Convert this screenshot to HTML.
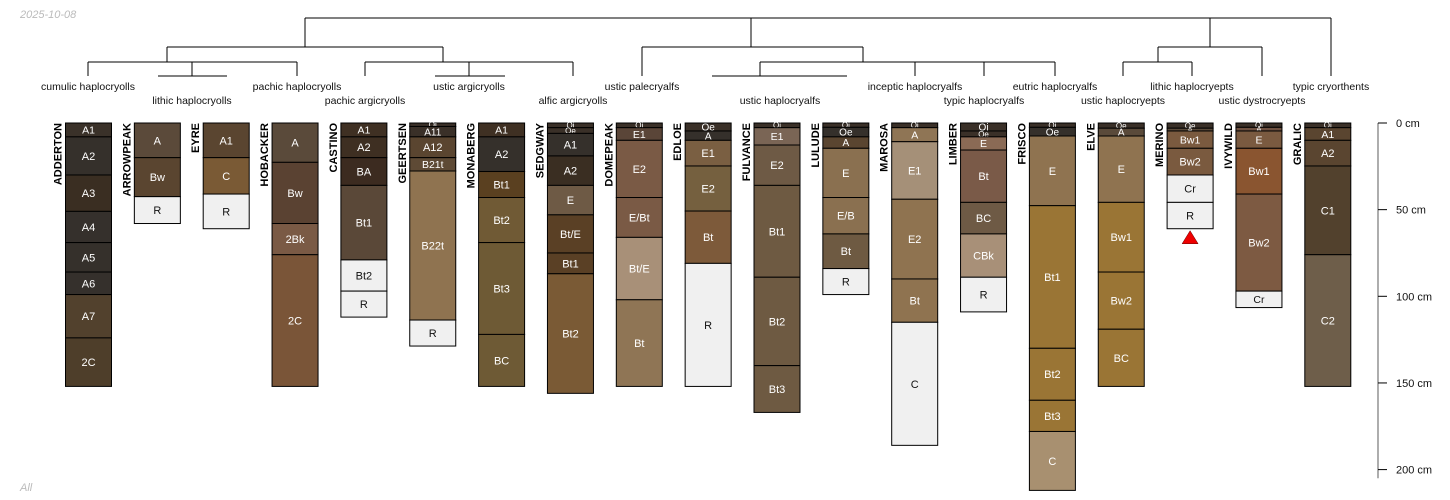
<!DOCTYPE html>
<html><head><meta charset="utf-8">
<style>
html,body{margin:0;padding:0;background:#fff;}
svg{display:block;font-family:"Liberation Sans",sans-serif;}
</style></head>
<body>
<svg id="chart" width="1450" height="500" viewBox="0 0 1450 500" xmlns="http://www.w3.org/2000/svg">
<text x="20" y="18" font-size="11" font-style="italic" fill="#bbb">2025-10-08</text>
<text x="20" y="491" font-size="11" font-style="italic" fill="#bbb">All</text>
<g id="dendro" stroke="#000" stroke-width="1" fill="none"></g>
<g id="dlabels" font-size="10.5" fill="#111" text-anchor="middle"></g>
<g id="profiles"></g>
<g id="axis"></g>
</svg>
<script>
// ---- data ----
const profileNames = ["ADDERTON","ARROWPEAK","EYRE","HOBACKER","CASTINO","GEERTSEN","MONABERG","SEDGWAY","DOMEPEAK","EDLOE","FULVANCE","LULUDE","MAROSA","LIMBER","FRISCO","ELVE","MERINO","IVYWILD","GRALIC"];
const horizonNames = [
 ["A1","A2","A3","A4","A5","A6","A7","2C"],
 ["A","Bw","R"],
 ["A1","C","R"],
 ["A","Bw","2Bk","2C"],
 ["A1","A2","BA","Bt1","Bt2","R"],
 ["Oi","A11","A12","B21t","B22t","R"],
 ["A1","A2","Bt1","Bt2","Bt3","BC"],
 ["Oi","Oe","A1","A2","E","Bt/E","Bt1","Bt2"],
 ["Oi","E1","E2","E/Bt","Bt/E","Bt"],
 ["Oe","A","E1","E2","Bt","R"],
 ["Oi","E1","E2","Bt1","Bt2","Bt3"],
 ["Oi","Oe","A","E","E/B","Bt","R"],
 ["Oi","A","E1","E2","Bt","C"],
 ["Oi","Oe","E","Bt","BC","CBk","R"],
 ["Oi","Oe","E","Bt1","Bt2","Bt3","C"],
 ["Oe","A","E","Bw1","Bw2","BC"],
 ["Oe","A","Bw1","Bw2","Cr","R"],
 ["Oi","A","E","Bw1","Bw2","Cr"],
 ["Oi","A1","A2","C1","C2"]
];
const horizonDepths = [
 [0,8,30,51,69,86,99,124,152],
 [0,20,42.5,58],
 [0,20,41,61],
 [0,22.7,58,76,152],
 [0,8,20,36,79,97,112],
 [0,2,8,20,27.7,113.7,128.7],
 [0,8,28,43,69,122,152],
 [0,2.7,6,19,36,53,75,87,156],
 [0,2.7,10,43,66,102,152],
 [0,4.6,10,24.8,50.8,81,152],
 [0,2.7,12.7,36,89,140,167],
 [0,2.5,8,14.6,43,64,84,99],
 [0,2.7,10.8,44,90,115,186],
 [0,4.6,8,15.6,45.8,64,89,109],
 [0,2.5,7.5,47.7,130,160,178,212],
 [0,3,7.5,45.8,86,119,152],
 [0,3,4.6,14.6,30,45.8,61],
 [0,2.5,4.6,14.6,41,97,106.5],
 [0,2.7,10,24.8,76,152]
];
const horizonColors = [
 ["#3a3129","#35302b","#3a2e22","#35302c","#35302b","#35302c","#52412d","#4e3e2a"],
 ["#5b4a3a","#5a4530","#f0f0f0"],
 ["#5a4530","#7a5a35","#f0f0f0"],
 ["#5a4a3a","#5a4232","#7a5a45","#7a5538"],
 ["#3f3023","#3e2f22","#3c2b20","#5a4838","#f0f0f0","#f0f0f0"],
 ["#3a3028","#3a3028","#5a4530","#5e4a35","#8f7350","#f0f0f0"],
 ["#3f3023","#35302b","#5a4020","#705a35","#6e5a35","#6e5a35"],
 ["#3a3028","#3a3028","#35302b","#3a2e22","#6e5a45","#5a4025","#5a4025","#7a5a35"],
 ["#3a3028","#5a4538","#7a5a45","#7a5a45","#a89078","#8f7555"],
 ["#3a3028","#35302b","#7a5f42","#75603f","#7d5a3a","#f0f0f0"],
 ["#3a3028","#7a6555","#6e5a45","#6e5a42","#6e5a42","#6e5a42"],
 ["#3a3028","#35302b","#5a4530","#8a7050","#8a7050","#6e5a42","#f0f0f0"],
 ["#3a3028","#8f7555","#a59078","#8f7350","#8f7350","#f0f0f0"],
 ["#3a3028","#3a3028","#8a6a55","#7a5a48","#6e5a45","#a89078","#f0f0f0"],
 ["#3a3028","#35302b","#8f7350","#9a7535","#9a7535","#9a7535","#a89070"],
 ["#3a3028","#5a4a3a","#8f7350","#9a7535","#9a7535","#9a7535"],
 ["#3a3028","#5a4a3a","#7a5a3f","#7a5a3f","#f0f0f0","#f0f0f0"],
 ["#3a3028","#6e5040","#7a5a40","#8a5530","#7d5a42","#f0f0f0"],
 ["#3a3028","#5a4530","#5a4530","#52412d","#6e5e4a"]
];
const depthTicks = [0,50,100,150,200];
const taxaNames = ["cumulic haplocryolls","lithic haplocryolls","pachic haplocryolls","pachic argicryolls","ustic argicryolls","alfic argicryolls","ustic palecryalfs","ustic haplocryalfs","inceptic haplocryalfs","typic haplocryalfs","eutric haplocryalfs","ustic haplocryepts","lithic haplocryepts","ustic dystrocryepts","typic cryorthents"];
const taxaX = [88,192,297,365,469,573,642,780,915,984,1055,1123,1192,1262,1331];
// dendrogram segments [x1,y1,x2,y2]
const dendroSegs = [
 [305,18,1331,18],[305,18,305,47],[751,18,751,47],[1210,18,1210,47],[1331,18,1331,76],
 [167,47,443,47],[167,47,167,62],[443,47,443,62],
 [88,62,297,62],[88,62,88,76],[297,62,297,76],[192,62,192,76],[158,76,227,76],
 [365,62,573,62],[365,62,365,76],[573,62,573,76],[469,62,469,76],[435,76,505,76],
 [642,47,863,47],[642,47,642,76],[863,47,863,62],
 [760,62,1055,62],[760,62,760,76],[712,76,847,76],[915,62,915,76],[984,62,984,76],[1055,62,1055,76],
 [1158,47,1262,47],[1158,47,1158,62],[1262,47,1262,76],
 [1123,62,1192,62],[1123,62,1123,76],[1192,62,1192,76]
];
// ---- scales ----
const y0 = 123, pxPerCm = 1.733;
const yScale = d => y0 + d * pxPerCm;
const xScale = i => 65.5 + i * 68.85;
const colW = 46;
const NS = "http://www.w3.org/2000/svg";
function mk(tag, attrs, parent){const e=document.createElementNS(NS,tag);for(const k in attrs)e.setAttribute(k,attrs[k]);parent.appendChild(e);return e;}
function lum(h){const r=parseInt(h.substr(1,2),16),g=parseInt(h.substr(3,2),16),b=parseInt(h.substr(5,2),16);return 0.299*r+0.587*g+0.114*b;}

// dendrogram
const dg = document.getElementById('dendro');
dendroSegs.forEach(s=>{
  const l = mk('line',{x1:s[0],y1:s[1],x2:s[2],y2:s[3]},dg);
  
  
});
const dl = document.getElementById('dlabels');
taxaNames.forEach((t,i)=>{
  const e = mk('text',{x:taxaX[i], y:(i%2===0?90:104)},dl);
  e.textContent = t;
  
  
});
// profiles
const pg = document.getElementById('profiles');
profileNames.forEach((name,i)=>{
  const g = mk('g',{},pg);
  
  
  const x = xScale(i);
  const d = horizonDepths[i];
  for(let h=0; h<horizonNames[i].length; h++){
    const yt = yScale(d[h]), yb = yScale(d[h+1]);
    const r = mk('rect',{x:x,y:yt,width:colW,height:yb-yt,fill:horizonColors[i][h],stroke:'#000','stroke-width':1},g);
    
    
    const hh = yb-yt;
    const fs = hh<6?8:(hh<12?10:(hh<20?10.5:11));
    const t = mk('text',{x:x+colW/2,y:(yt+yb)/2+fs*0.36,'font-size':fs,'text-anchor':'middle',fill:lum(horizonColors[i][h])>170?'#111':'#fff'},g);
    t.textContent = horizonNames[i][h];
    
    
  }
  const nl = mk('text',{x:0,y:0,'font-size':11,'font-weight':'bold','text-anchor':'end',fill:'#000',transform:`translate(${x-4},${y0}) rotate(-90)`},g);
  nl.textContent = name;
  
  
});
// merino bottom marker
(function(){
  const i = profileNames.indexOf("MERINO");
  const d = horizonDepths[i];
  const yb = yScale(d[d.length-1]);
  const cx = xScale(i)+colW/2;
  const tri = mk('polygon',{points:`${cx},${yb+2} ${cx-8},${yb+15} ${cx+8},${yb+15}`,fill:'#e00',stroke:'#600','stroke-width':0.5},pg);
  
  
})();
// axis
const ag = document.getElementById('axis');
const axl = mk('line',{x1:1378,y1:yScale(0),x2:1378,y2:yScale(205),stroke:'#777','stroke-width':1.2},ag);


depthTicks.forEach(v=>{
  const tk = mk('line',{x1:1378,y1:yScale(v),x2:1387,y2:yScale(v),stroke:'#000','stroke-width':1},ag);
  
  
  const tl = mk('text',{x:1396,y:yScale(v)+4,'font-size':11,fill:'#111'},ag);
  tl.textContent = v+' cm';
  
  
});
</script>
</body></html>
